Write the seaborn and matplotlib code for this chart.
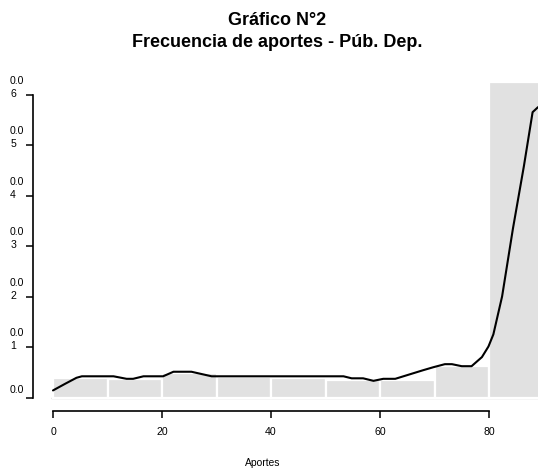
import numpy as np
import pandas as pd
import matplotlib
matplotlib.use("Agg")
import matplotlib.pyplot as plt
import seaborn as sns

# Histogram of contributions (density per 10-unit bin)
bin_edges = [0, 10, 20, 30, 40, 50, 60, 70, 80, 90]
bin_density = [0.0039, 0.0037, 0.0049, 0.0041, 0.0039, 0.0035, 0.0035, 0.0062, 0.0625]

# Smoothed density curve
curve_x = [0.0, 2.2, 4.3, 5.3, 11.1, 13.5, 14.7, 16.6, 20.2, 22.1, 25.4, 29.1,
           53.3, 54.8, 56.9, 58.8, 60.6, 62.8, 66.1, 67.9, 69.8, 71.9, 73.2,
           75.0, 76.8, 78.7, 79.9, 80.8, 82.4, 84.4, 86.4, 88.0, 89.0]
curve_y = [0.0014, 0.0027, 0.0039, 0.0042, 0.0042, 0.0037, 0.0037, 0.0042, 0.0042,
           0.0051, 0.0051, 0.0042, 0.0042, 0.0038, 0.0038, 0.0033, 0.0037, 0.0037,
           0.0048, 0.0054, 0.0060, 0.0066, 0.0066, 0.0062, 0.0062, 0.0080, 0.0101,
           0.0125, 0.0200, 0.0335, 0.0458, 0.0565, 0.0575]

x_ticks = [0, 20, 40, 60, 80]
y_ticks = [0.00, 0.01, 0.02, 0.03, 0.04, 0.05, 0.06]
y_tick_labels = ["0.0", "0.0\n1", "0.0\n2", "0.0\n3", "0.0\n4", "0.0\n5", "0.0\n6"]

title_text = "Gráfico N°2\nFrecuencia de aportes - Púb. Dep."
x_label = "Aportes"

sns.set_theme(style="white")
plt.rcParams["font.family"] = ["Liberation Sans", "DejaVu Sans"]
plt.rcParams["text.color"] = "black"
plt.rcParams["xtick.color"] = "black"
plt.rcParams["ytick.color"] = "black"

W, H = 538, 469
fig = plt.figure(figsize=(W / 100, H / 100), dpi=100)
ax = fig.add_axes([33 / W, (H - 410.7) / H, (W - 33) / W, (410.7 - 60) / H])

bins_df = pd.DataFrame({
    "mid": [(a + b) / 2 for a, b in zip(bin_edges[:-1], bin_edges[1:])],
    "density": bin_density,
})
curve_df = pd.DataFrame({"x": curve_x, "y": curve_y})

ax.hlines(0, -0.3, 100, color="#c8c8c8", lw=1.0, zorder=0.5)
sns.histplot(data=bins_df, x="mid", weights="density", bins=bin_edges,
             stat="count", color="#e1e1e1", alpha=1, edgecolor="white",
             linewidth=1.6, ax=ax, zorder=1)
sns.lineplot(data=curve_df, x="x", y="y", color="black", lw=1.5,
             estimator=None, ax=ax, zorder=3)

ax.set_xlim(-3.67, 88.99)
ax.set_ylim(-(410.7 - 397.5) / 5050, (397.5 - 60) / 5050)

for s in ["top", "right"]:
    ax.spines[s].set_visible(False)
for s in ["left", "bottom"]:
    ax.spines[s].set_color("black")
    ax.spines[s].set_linewidth(1.2)
ax.spines["left"].set_bounds(0, 0.06)
ax.spines["bottom"].set_bounds(0, 80)

ax.set_xticks(x_ticks)
ax.set_xticklabels([str(v) for v in x_ticks])
ax.tick_params(axis="x", length=5, width=1.1, color="black", pad=6.8,
               labelsize=7.6, labelcolor="black", bottom=True)
ax.set_yticks(y_ticks)
ax.set_yticklabels([])
ax.tick_params(axis="y", length=5, width=1.1, color="black", left=True)

# y tick labels: two-line, left-aligned, last line level with the tick
for v, lab in zip(y_ticks, y_tick_labels):
    dy = 8 if "\n" not in lab else 7.2
    ax.annotate(lab, xy=(0, v), xycoords=("axes fraction", "data"),
                xytext=(-8.5 * 0.72, dy * 0.72), textcoords="offset points",
                ha="right", va="center", multialignment="left",
                fontsize=7.6, linespacing=1.38, color="black",
                annotation_clip=False)

ax.set_xlabel("")
ax.set_ylabel("")
fig.text(263 / W, 3 / H, x_label, ha="center", va="baseline", fontsize=7.4,
         color="black")
fig.text(277 / W, 1 - 31.5 / H, title_text, ha="center", va="center",
         fontsize=13, fontweight="bold", linespacing=1.4, color="black")

fig.savefig("out.png", dpi=100)
